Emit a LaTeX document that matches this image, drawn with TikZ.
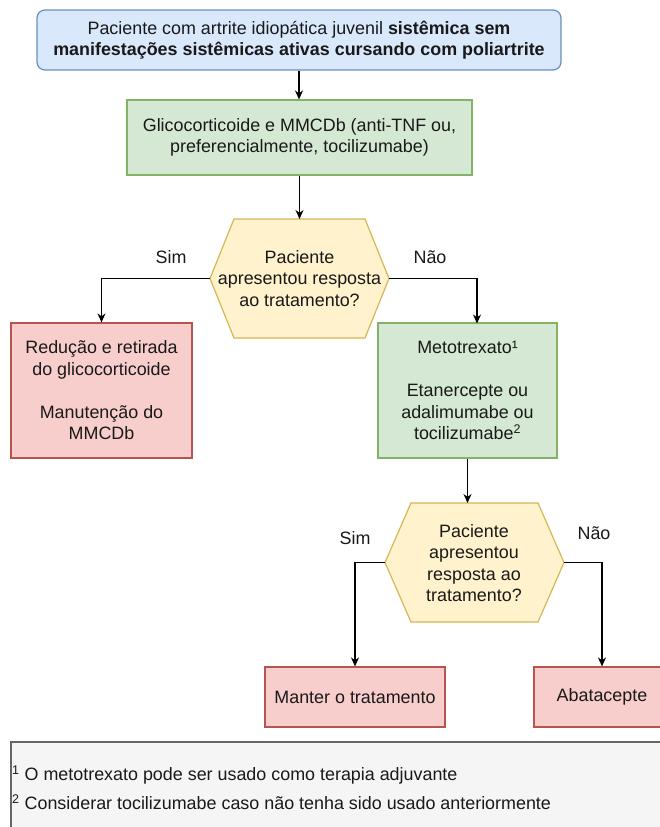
\documentclass[tikz,border=0pt]{standalone}
\usepackage{fontspec}
\setmainfont{Liberation Sans}
\usetikzlibrary{arrows.meta}
\definecolor{bluefill}{HTML}{DAE8FC}\definecolor{bluedraw}{HTML}{6C8EBF}
\definecolor{greenfill}{HTML}{D5E8D4}\definecolor{greendraw}{HTML}{82B366}
\definecolor{yellowfill}{HTML}{FFF2CC}\definecolor{yellowdraw}{HTML}{D6B656}
\definecolor{redfill}{HTML}{F8CECC}\definecolor{reddraw}{HTML}{B85450}
\definecolor{grayfill}{HTML}{F5F5F5}\definecolor{graydraw}{HTML}{666666}
\tikzset{
  txt/.style={font=\fontsize{17.9}{21.5}\selectfont, text=black!90, align=center, inner sep=0pt},
  boxbase/.style={txt, draw, line width=1.2pt},
  bluebox/.style={boxbase, fill=bluefill, draw=bluedraw, rounded corners=8pt},
  greenbox/.style={boxbase, fill=greenfill, draw=greendraw},
  redbox/.style={boxbase, fill=redfill, draw=reddraw},
  hexshape/.style={fill=yellowfill, draw=yellowdraw, line width=1.2pt},
  footbox/.style={fill=grayfill, draw=graydraw, line width=1.2pt},
  conn/.style={line width=1.4pt, -{Stealth[length=9pt,width=8pt]}},
  lbl/.style={txt}
}
\begin{document}
\begin{tikzpicture}[x=1pt,y=-1pt]
\path[use as bounding box] (0,0) rectangle (660,827);
\clip (0,0) rectangle (660,827);
\fill[white] (0,0) rectangle (660,827);

% top box
\node[bluebox, minimum width=524pt, minimum height=60pt] (top) at (299,40)
  {Paciente com artrite idiopática juvenil \textbf{sistêmica sem}\\\textbf{manifestações sistêmicas ativas cursando com poliartrite}};

% first treatment
\node[greenbox, minimum width=345pt, minimum height=75pt] (g1) at (299.5,137.5)
  {Glicocorticoide e MMCDb (anti-TNF ou,\\preferencialmente, tocilizumabe)};

% hexagon 1
\coordinate (h1L) at (210,278.5);
\coordinate (h1R) at (389,278.5);
\coordinate (h1top) at (299.5,219);
\draw[hexshape] (h1L) -- (234,219) -- (365,219) -- (h1R) -- (365,338) -- (234,338) -- cycle;
\node[txt] (h1) at (299.5,278.5) {Paciente\\apresentou resposta\\ao tratamento?};

% second row
\node[redbox, minimum width=181pt, minimum height=135pt] (r1) at (101.5,390.5)
  {Redução e retirada\\do glicocorticoide\\[21.5pt]Manutenção do\\MMCDb};
\node[greenbox, minimum width=179pt, minimum height=135pt] (g2) at (467.5,390.5)
  {Metotrexato¹\\[21.5pt]Etanercepte ou\\adalimumabe ou\\tocilizumabe\textsuperscript{2}};
\coordinate (g2in) at (477,323.5);

% hexagon 2
\coordinate (h2L) at (385,562.5);
\coordinate (h2R) at (564,562.5);
\coordinate (h2top) at (467.5,503);
\draw[hexshape] (h2L) -- (411,503) -- (538,503) -- (h2R) -- (538,622) -- (411,622) -- cycle;
\node[txt] (h2) at (474,563) {Paciente\\apresentou\\resposta ao\\tratamento?};

% bottom boxes
\node[redbox, minimum width=180pt, minimum height=60pt] (m) at (355,697) {Manter o tratamento};
\node[redbox, minimum width=136pt, minimum height=60pt] (a) at (602,697) {Abatacepte};

% footer
\draw[footbox] (11,742) rectangle (720,880);
\node[txt, anchor=west] (f1) at (12,775) {\textsuperscript{1} O metotrexato pode ser usado como terapia adjuvante};
\node[txt, anchor=west] (f2) at (12,802) {\textsuperscript{2} Considerar tocilizumabe caso não tenha sido usado anteriormente};

% labels
\node[lbl] (sim1) at (171,257) {Sim};
\node[lbl] (nao1) at (430,257) {Não};
\node[lbl] (sim2) at (355,538) {Sim};
\node[lbl] (nao2) at (594,533) {Não};

% connectors
\draw[conn] (top.south) -- (top.south |- g1.north);
\draw[conn] (g1.south) -- (h1top);
\draw[conn] (h1L) -| (r1.north);
\draw[conn] (h1R) -| (g2in);
\draw[conn] (g2.south) -- (h2top);
\draw[conn] (h2L) -| (m.north);
\draw[conn] (h2R) -| (a.north);
\end{tikzpicture}
\end{document}
